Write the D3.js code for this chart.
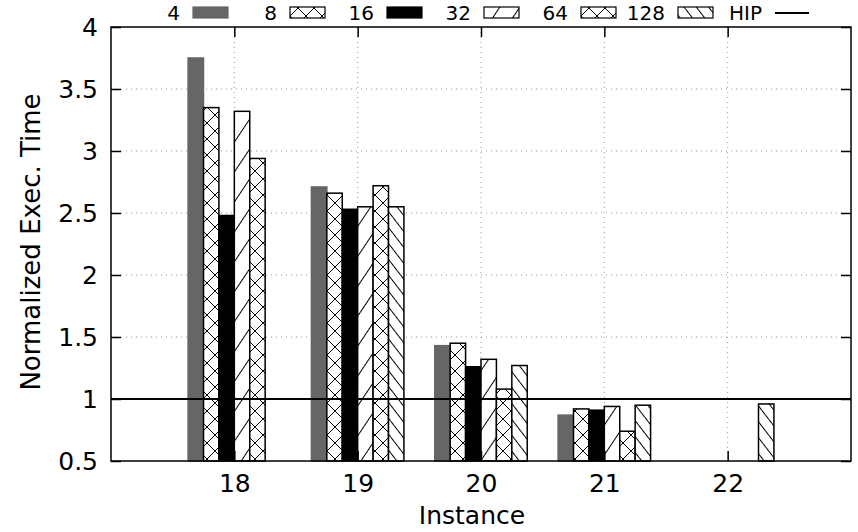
<!DOCTYPE html>
<html>
<head>
<meta charset="utf-8">
<script src="https://cdn.jsdelivr.net/npm/d3@7"></script>
<style>
  body { margin: 0; background: #fff; }
  svg { display: block; font-family: "DejaVu Sans", sans-serif; }
</style>
</head>
<body>
<div id="wrapper"></div>
<script>
// data
const instances = [18, 19, 20, 21, 22]
const seriesNames = ["4", "8", "16", "32", "64", "128"]
const values4 = [3.75, 2.71, 1.43, 0.87, null]
const values8 = [3.35, 2.66, 1.45, 0.92, null]
const values16 = [2.48, 2.53, 1.26, 0.91, null]
const values32 = [3.32, 2.55, 1.32, 0.94, null]
const values64 = [2.94, 2.72, 1.08, 0.74, null]
const values128 = [null, 2.55, 1.27, 0.95, 0.96]
const hipValue = 1
const yTicks = [0.5, 1, 1.5, 2, 2.5, 3, 3.5, 4]

const seriesValues = [values4, values8, values16, values32, values64, values128]
const fills = ["#666666", "url(#cross)", "#000000", "url(#fwd)", "url(#cross)", "url(#back)"]

function drawChart() {
  //1_dimensions
  let dimensions = {
    width: 858,
    height: 532,
    margin: { top: 27, right: 7, bottom: 71, left: 111 }
  }
  dimensions.boundedWidth = dimensions.width - dimensions.margin.left - dimensions.margin.right
  dimensions.boundedHeight = dimensions.height - dimensions.margin.top - dimensions.margin.bottom

  //2_canvas
  const svg = d3.select("#wrapper").append("svg")
      .attr("width", dimensions.width)
      .attr("height", dimensions.height)

  // fill patterns
  const defs = svg.append("defs")
  const cross = defs.append("pattern")
      .attr("id", "cross")
      .attr("patternUnits", "userSpaceOnUse")
      .attr("width", 16).attr("height", 16)
  cross.append("rect").attr("width", 16).attr("height", 16).attr("fill", "white")
  cross.append("path").attr("d", "M0,0L16,16M16,0L0,16")
      .attr("stroke", "black").attr("stroke-width", 1)

  const fwd = defs.append("pattern")
      .attr("id", "fwd")
      .attr("patternUnits", "userSpaceOnUse")
      .attr("width", 16.6).attr("height", 10)
      .attr("patternTransform", "rotate(33.7)")
  fwd.append("rect").attr("width", 16.6).attr("height", 10).attr("fill", "white")
  fwd.append("line").attr("x1", 0.5).attr("x2", 0.5).attr("y1", 0).attr("y2", 10)
      .attr("stroke", "black").attr("stroke-width", 1)

  const back = defs.append("pattern")
      .attr("id", "back")
      .attr("patternUnits", "userSpaceOnUse")
      .attr("width", 9.7).attr("height", 10)
      .attr("patternTransform", "rotate(-37.6)")
  back.append("rect").attr("width", 9.7).attr("height", 10).attr("fill", "white")
  back.append("line").attr("x1", 0.5).attr("x2", 0.5).attr("y1", 0).attr("y2", 10)
      .attr("stroke", "black").attr("stroke-width", 1)

  const bounds = svg.append("g")
      .attr("transform", `translate(${dimensions.margin.left},${dimensions.margin.top})`)

  //3_scales
  const xScale = d3.scaleLinear()
      .domain([17, 23])
      .range([0, dimensions.boundedWidth])
  const yScale = d3.scaleLinear()
      .domain([0.5, 4])
      .range([dimensions.boundedHeight, 0])
  const subScale = d3.scaleBand()
      .domain(seriesNames)
      .range([-0.375, 0.375])

  //4_grid
  const grid = bounds.append("g").attr("class", "grid")
  grid.selectAll(".hgrid")
      .data(yTicks.filter(d => d > 0.5 && d < 4))
      .join("line")
      .attr("x1", 0).attr("x2", dimensions.boundedWidth)
      .attr("y1", d => yScale(d)).attr("y2", d => yScale(d))
      .attr("stroke", "#9a9a9a").attr("stroke-width", 1)
      .attr("stroke-dasharray", "1,4")
  grid.selectAll(".vgrid")
      .data(instances)
      .join("line")
      .attr("x1", d => xScale(d)).attr("x2", d => xScale(d))
      .attr("y1", 0).attr("y2", dimensions.boundedHeight)
      .attr("stroke", "#9a9a9a").attr("stroke-width", 1)
      .attr("stroke-dasharray", "1,4")

  //5_bars
  const bw = xScale(subScale.bandwidth()) - xScale(0)
  seriesNames.forEach((name, s) => {
    const rows = instances.map((inst, i) => ({ inst: inst, value: seriesValues[s][i] }))
        .filter(d => d.value != null)
    bounds.append("g")
        .selectAll("rect")
        .data(rows)
        .join("rect")
        .attr("x", d => xScale(d.inst + subScale(name)))
        .attr("y", d => yScale(d.value))
        .attr("width", bw)
        .attr("height", d => yScale(0.5) - yScale(d.value))
        .attr("fill", fills[s])
        .attr("stroke", s == 0 ? "#666666" : "black")
        .attr("stroke-width", 1.5)
  })

  // HIP line
  bounds.append("line")
      .attr("x1", 0).attr("x2", dimensions.boundedWidth)
      .attr("y1", yScale(hipValue)).attr("y2", yScale(hipValue))
      .attr("stroke", "black").attr("stroke-width", 2)

  //6_axes
  const yAxis = d3.axisLeft(yScale).tickValues(yTicks).tickSize(-10).tickPadding(13).tickFormat(d3.format("~g"))
  const yAxisR = d3.axisRight(yScale).tickValues(yTicks).tickSize(-10).tickFormat("")
  const xAxis = d3.axisBottom(xScale).tickValues(instances).tickSize(-10).tickPadding(13).tickFormat(d3.format("d"))
  const xAxisT = d3.axisTop(xScale).tickValues(instances).tickSize(-10).tickFormat("")

  const styleAxis = g => {
    g.select(".domain").remove()
    g.selectAll(".tick line").attr("stroke", "black").attr("stroke-width", 1.5)
    g.selectAll("text").attr("fill", "black").style("font-size", "25px").style("font-family", "DejaVu Sans, sans-serif")
  }
  bounds.append("g").call(yAxis).call(styleAxis)
  bounds.append("g").attr("transform", `translate(${dimensions.boundedWidth},0)`).call(yAxisR).call(styleAxis)
  bounds.append("g").attr("transform", `translate(0,${dimensions.boundedHeight})`).call(xAxis).call(styleAxis)
  bounds.append("g").call(xAxisT).call(styleAxis)

  bounds.append("rect")
      .attr("width", dimensions.boundedWidth)
      .attr("height", dimensions.boundedHeight)
      .attr("fill", "none")
      .attr("stroke", "black")
      .attr("stroke-width", 1.5)

  // axis labels
  svg.append("text")
      .attr("x", 472)
      .attr("y", 524)
      .attr("text-anchor", "middle")
      .style("font-size", "25px")
      .text("Instance")
  svg.append("text")
      .attr("transform", `translate(40,${dimensions.margin.top + dimensions.boundedHeight / 2 - 2}) rotate(-90)`)
      .attr("text-anchor", "middle")
      .style("font-size", "26px")
      .text("Normalized Exec. Time")

  //7_legend
  const legendNames = seriesNames.concat(["HIP"])
  const legend = svg.append("g")
      .selectAll("g")
      .data(legendNames)
      .join("g")
      .attr("transform", (d, i) => `translate(${193 + i * 97},0)`)
  legend.append("text")
      .attr("x", -13)
      .attr("y", 20)
      .attr("text-anchor", "end")
      .style("font-size", "20px")
      .text(d => d)
  legend.filter((d, i) => i < seriesNames.length)
      .append("rect")
      .attr("x", 0).attr("y", 7)
      .attr("width", 35).attr("height", 11)
      .attr("fill", (d, i) => fills[i])
      .attr("stroke", (d, i) => i == 0 ? "#666666" : "black")
      .attr("stroke-width", 1.2)
  legend.filter(d => d == "HIP")
      .append("line")
      .attr("x1", 0).attr("x2", 34)
      .attr("y1", 13).attr("y2", 13)
      .attr("stroke", "black").attr("stroke-width", 2)
}
drawChart()
</script>
</body>
</html>
